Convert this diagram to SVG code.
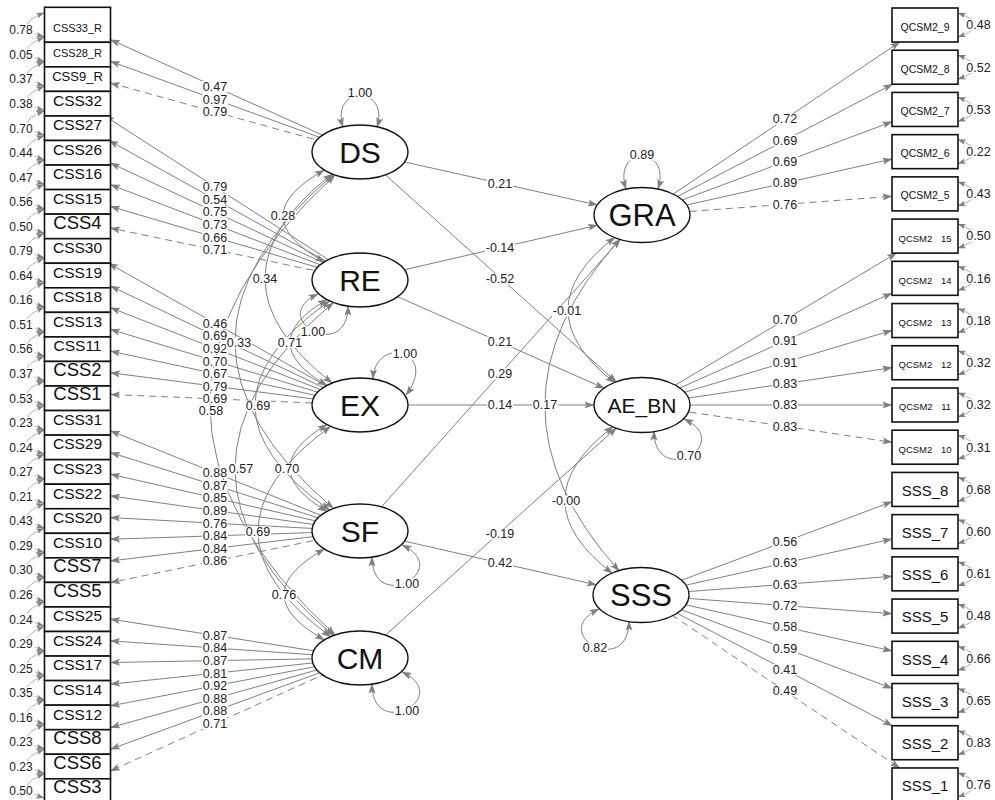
<svg xmlns="http://www.w3.org/2000/svg" width="995" height="800" viewBox="0 0 995 800">
<defs>
<style>
.e{fill:none;stroke:#808080;stroke-width:1;marker-end:url(#a)}
.d{stroke-dasharray:7 5}
.c{fill:none;stroke:#808080;stroke-width:1;marker-start:url(#a);marker-end:url(#a)}
.r{fill:none;stroke:#9a9a9a;stroke-width:0.8;marker-start:url(#s);marker-end:url(#s)}
.bg{fill:#fff}
.lb{font-family:"Liberation Sans",Arial,sans-serif;font-size:12.5px;fill:#222;text-anchor:middle}
.rl{font-family:"Liberation Sans",Arial,sans-serif;font-size:12px;fill:#222;text-anchor:middle}
.box{fill:#fff;stroke:#111;stroke-width:1.6}
.lat{fill:#fff;stroke:#111;stroke-width:1.3}
.t{font-family:"Liberation Sans",Arial,sans-serif;text-anchor:middle;fill:#111}
.f11{font-size:11px}.f13{font-size:13px}.f15{font-size:15.5px}.f18{font-size:18.5px}
.q{font-size:10.5px}.q2{font-size:9.5px;word-spacing:6px}.s{font-size:15px}
.L{font-size:30px}.L2{font-size:31px}.L3{font-size:21px}
</style>
<marker id="a" viewBox="0 0 10 8" refX="9.5" refY="4" markerWidth="10" markerHeight="8" markerUnits="userSpaceOnUse" orient="auto-start-reverse"><path d="M0,0.5 L10,4 L0,7.5 L2,4 z" fill="#7f7f7f"/></marker>
<marker id="s" viewBox="0 0 10 8" refX="9.5" refY="4" markerWidth="8" markerHeight="6.5" markerUnits="userSpaceOnUse" orient="auto-start-reverse"><path d="M0,0.5 L10,4 L0,7.5 L2,4 z" fill="#7f7f7f"/></marker>
</defs>
<rect width="995" height="800" fill="#fff"/>
<g id="connectors">
<g id="loadings">
<path class="e" d="M360,152 L110.5,39.65"/>
<path class="e" d="M360,152 L110.5,61.34"/>
<path class="e d" d="M360,152 L110.5,83.02"/>
<path class="e" d="M360,280 L104.7,115.95"/>
<path class="e" d="M360,280 L109,140.5"/>
<path class="e" d="M360,280 L110.5,163.02"/>
<path class="e" d="M360,280 L110.5,184.7"/>
<path class="e" d="M360,280 L110.5,206.38"/>
<path class="e d" d="M360,280 L110.5,228.07"/>
<path class="e" d="M360,405 L108.5,263.25"/>
<path class="e" d="M360,405 L110.5,286.03"/>
<path class="e" d="M360,405 L110.5,307.72"/>
<path class="e" d="M360,405 L110.5,329.4"/>
<path class="e" d="M360,405 L110.5,351.08"/>
<path class="e" d="M360,405 L110.5,372.76"/>
<path class="e d" d="M360,405 L110.5,394.45"/>
<path class="e" d="M360,531 L110.5,430.84"/>
<path class="e" d="M360,531 L110.5,452.53"/>
<path class="e" d="M360,531 L110.5,474.21"/>
<path class="e" d="M360,531 L110.5,495.89"/>
<path class="e" d="M360,531 L110.5,517.58"/>
<path class="e" d="M360,531 L110.5,539.26"/>
<path class="e" d="M360,531 L110.5,560.94"/>
<path class="e d" d="M360,531 L110.5,582.62"/>
<path class="e" d="M360,658 L110.5,619.14"/>
<path class="e" d="M360,658 L110.5,640.82"/>
<path class="e" d="M360,658 L110.5,662.5"/>
<path class="e" d="M360,658 L110.5,684.19"/>
<path class="e" d="M360,658 L110.5,705.87"/>
<path class="e" d="M360,658 L110.5,727.55"/>
<path class="e" d="M360,658 L110.5,749.23"/>
<path class="e d" d="M360,658 L110.5,770.92"/>
<path class="e" d="M642,215 L899.7,42"/>
<path class="e" d="M642,215 L892.45,84.22"/>
<path class="e" d="M642,215 L892,121.75"/>
<path class="e" d="M642,215 L892,159.04"/>
<path class="e d" d="M642,215 L892,196.34"/>
<path class="e" d="M642,405 L896.5,253.1"/>
<path class="e" d="M642,405 L892,293.09"/>
<path class="e" d="M642,405 L892,330.39"/>
<path class="e" d="M642,405 L892,367.68"/>
<path class="e" d="M642,405 L892,405"/>
<path class="e d" d="M642,405 L892,442.28"/>
<path class="e" d="M642,595 L892,501.73"/>
<path class="e" d="M642,595 L892,539.03"/>
<path class="e" d="M642,595 L892,576.32"/>
<path class="e" d="M642,595 L892,613.62"/>
<path class="e" d="M642,595 L892,650.92"/>
<path class="e" d="M642,595 L892,688.22"/>
<path class="e" d="M642,595 L892.4,725.74"/>
<path class="e d" d="M642,595 L899.7,767.96"/>
</g>
<g id="regressions">
<path class="e" d="M360,152 L597.4,205"/>
<path class="e" d="M360,280 L597.6,225.2"/>
<path class="e" d="M360,152 L616.5,382.1"/>
<path class="e" d="M360,280 L604.3,388.3"/>
<path class="e" d="M360,405 L594,405"/>
<path class="e" d="M360,531 L620.5,239.1"/>
<path class="e" d="M360,531 L596.5,584.9"/>
<path class="e" d="M360,658 L616.5,427.9"/>
</g>
<g id="covariances">
<path class="c" d="M324.4,170.1 Q241.6,216 324.4,261.9"/>
<path class="c" d="M332.2,174 Q197.8,278.5 332.2,383"/>
<path class="c" d="M333.5,174.5 Q136.5,341.5 333.5,508.5"/>
<path class="c" d="M335,175 Q85,405 335,635"/>
<path class="c" d="M327,299.6 Q253,342.5 327,385.4"/>
<path class="c" d="M329.7,300.9 Q180.3,405.5 329.7,510.1"/>
<path class="c" d="M333.4,302.5 Q136.6,469 333.4,635.5"/>
<path class="c" d="M327,424.6 Q253,468 327,511.4"/>
<path class="c" d="M330.6,426.4 Q185.4,531.5 330.6,636.6"/>
<path class="c" d="M324.4,549.1 Q243.6,594.5 324.4,639.9"/>
<path class="c" d="M614.8,237.2 Q521.2,310 614.8,382.8"/>
<path class="c" d="M613.2,426.6 Q517,500 612.4,573.4"/>
<path class="c" d="M620.2,239 Q470,405 619.2,571"/>
</g>
<g id="variances">
<path class="c" d="M343,127 C330,85 390,85 377,127"/>
<path class="c" d="M626,189 C612,145 672,145 658,189"/>
<path class="c" d="M348,306 C348,364 265,319 318,294"/>
<path class="c" d="M373,379 C375,335 440,350 406,395"/>
<path class="c" d="M372,557 C372,615 455,570 402,545"/>
<path class="c" d="M372,684 C372,742 455,697 402,672"/>
<path class="c" d="M654,431 C654,489 737,444 684,419"/>
<path class="c" d="M629,621 C629,679 546,634 599,609"/>
</g>
<g id="residuals">
<path class="r" d="M44,12.8 Q10,26.8 44,36.8"/>
<path class="r" d="M44,37.35 Q10,51.35 44,61.35"/>
<path class="r" d="M44,61.9 Q10,75.9 44,85.9"/>
<path class="r" d="M44,86.45 Q10,100.45 44,110.45"/>
<path class="r" d="M44,111 Q10,125 44,135"/>
<path class="r" d="M44,135.55 Q10,149.55 44,159.55"/>
<path class="r" d="M44,160.1 Q10,174.1 44,184.1"/>
<path class="r" d="M44,184.65 Q10,198.65 44,208.65"/>
<path class="r" d="M44,209.2 Q10,223.2 44,233.2"/>
<path class="r" d="M44,233.75 Q10,247.75 44,257.75"/>
<path class="r" d="M44,258.3 Q10,272.3 44,282.3"/>
<path class="r" d="M44,282.85 Q10,296.85 44,306.85"/>
<path class="r" d="M44,307.4 Q10,321.4 44,331.4"/>
<path class="r" d="M44,331.95 Q10,345.95 44,355.95"/>
<path class="r" d="M44,356.5 Q10,370.5 44,380.5"/>
<path class="r" d="M44,381.05 Q10,395.05 44,405.05"/>
<path class="r" d="M44,405.6 Q10,419.6 44,429.6"/>
<path class="r" d="M44,430.15 Q10,444.15 44,454.15"/>
<path class="r" d="M44,454.7 Q10,468.7 44,478.7"/>
<path class="r" d="M44,479.25 Q10,493.25 44,503.25"/>
<path class="r" d="M44,503.8 Q10,517.8 44,527.8"/>
<path class="r" d="M44,528.35 Q10,542.35 44,552.35"/>
<path class="r" d="M44,552.9 Q10,566.9 44,576.9"/>
<path class="r" d="M44,577.45 Q10,591.45 44,601.45"/>
<path class="r" d="M44,602 Q10,616 44,626"/>
<path class="r" d="M44,626.55 Q10,640.55 44,650.55"/>
<path class="r" d="M44,651.1 Q10,665.1 44,675.1"/>
<path class="r" d="M44,675.65 Q10,689.65 44,699.65"/>
<path class="r" d="M44,700.2 Q10,714.2 44,724.2"/>
<path class="r" d="M44,724.75 Q10,738.75 44,748.75"/>
<path class="r" d="M44,749.3 Q10,763.3 44,773.3"/>
<path class="r" d="M44,773.85 Q10,787.85 44,797.85"/>
<path class="r" d="M958,13 Q992,25 958,37"/>
<path class="r" d="M958,55.22 Q992,67.22 958,79.22"/>
<path class="r" d="M958,97.44 Q992,109.44 958,121.44"/>
<path class="r" d="M958,139.66 Q992,151.66 958,163.66"/>
<path class="r" d="M958,181.88 Q992,193.88 958,205.88"/>
<path class="r" d="M958,224.1 Q992,236.1 958,248.1"/>
<path class="r" d="M958,266.32 Q992,278.32 958,290.32"/>
<path class="r" d="M958,308.54 Q992,320.54 958,332.54"/>
<path class="r" d="M958,350.76 Q992,362.76 958,374.76"/>
<path class="r" d="M958,392.98 Q992,404.98 958,416.98"/>
<path class="r" d="M958,435.2 Q992,447.2 958,459.2"/>
<path class="r" d="M958,477.42 Q992,489.42 958,501.42"/>
<path class="r" d="M958,519.64 Q992,531.64 958,543.64"/>
<path class="r" d="M958,561.86 Q992,573.86 958,585.86"/>
<path class="r" d="M958,604.08 Q992,616.08 958,628.08"/>
<path class="r" d="M958,646.3 Q992,658.3 958,670.3"/>
<path class="r" d="M958,688.52 Q992,700.52 958,712.52"/>
<path class="r" d="M958,730.74 Q992,742.74 958,754.74"/>
<path class="r" d="M958,772.96 Q992,784.96 958,796.96"/>
</g>
<g id="edge-labels">
<rect class="bg" x="202" y="81.2" width="26" height="11"/><text class="lb" x="215" y="91.1">0.47</text>
<rect class="bg" x="202" y="93.8" width="26" height="11"/><text class="lb" x="215" y="103.7">0.97</text>
<rect class="bg" x="202" y="106.4" width="26" height="11"/><text class="lb" x="215" y="116.3">0.79</text>
<rect class="bg" x="202" y="181.3" width="26" height="11"/><text class="lb" x="215" y="191.2">0.79</text>
<rect class="bg" x="202" y="193.9" width="26" height="11"/><text class="lb" x="215" y="203.8">0.54</text>
<rect class="bg" x="202" y="206.5" width="26" height="11"/><text class="lb" x="215" y="216.4">0.75</text>
<rect class="bg" x="202" y="219.1" width="26" height="11"/><text class="lb" x="215" y="229">0.73</text>
<rect class="bg" x="202" y="231.7" width="26" height="11"/><text class="lb" x="215" y="241.6">0.66</text>
<rect class="bg" x="202" y="244.3" width="26" height="11"/><text class="lb" x="215" y="254.2">0.71</text>
<rect class="bg" x="202" y="317.8" width="26" height="11"/><text class="lb" x="215" y="327.7">0.46</text>
<rect class="bg" x="202" y="330.4" width="26" height="11"/><text class="lb" x="215" y="340.3">0.69</text>
<rect class="bg" x="202" y="343" width="26" height="11"/><text class="lb" x="215" y="352.9">0.92</text>
<rect class="bg" x="202" y="355.6" width="26" height="11"/><text class="lb" x="215" y="365.5">0.70</text>
<rect class="bg" x="202" y="368.2" width="26" height="11"/><text class="lb" x="215" y="378.1">0.67</text>
<rect class="bg" x="202" y="380.8" width="26" height="11"/><text class="lb" x="215" y="390.7">0.79</text>
<rect class="bg" x="202" y="393.4" width="26" height="11"/><text class="lb" x="215" y="403.3">0.69</text>
<rect class="bg" x="202" y="467.3" width="26" height="11"/><text class="lb" x="215" y="477.2">0.88</text>
<rect class="bg" x="202" y="479.9" width="26" height="11"/><text class="lb" x="215" y="489.8">0.87</text>
<rect class="bg" x="202" y="492.5" width="26" height="11"/><text class="lb" x="215" y="502.4">0.85</text>
<rect class="bg" x="202" y="505.1" width="26" height="11"/><text class="lb" x="215" y="515">0.89</text>
<rect class="bg" x="202" y="517.7" width="26" height="11"/><text class="lb" x="215" y="527.6">0.76</text>
<rect class="bg" x="202" y="530.3" width="26" height="11"/><text class="lb" x="215" y="540.2">0.84</text>
<rect class="bg" x="202" y="542.9" width="26" height="11"/><text class="lb" x="215" y="552.8">0.84</text>
<rect class="bg" x="202" y="555.5" width="26" height="11"/><text class="lb" x="215" y="565.4">0.86</text>
<rect class="bg" x="202" y="629.9" width="26" height="11"/><text class="lb" x="215" y="639.8">0.87</text>
<rect class="bg" x="202" y="642.5" width="26" height="11"/><text class="lb" x="215" y="652.4">0.84</text>
<rect class="bg" x="202" y="655.1" width="26" height="11"/><text class="lb" x="215" y="665">0.87</text>
<rect class="bg" x="202" y="667.7" width="26" height="11"/><text class="lb" x="215" y="677.6">0.81</text>
<rect class="bg" x="202" y="680.3" width="26" height="11"/><text class="lb" x="215" y="690.2">0.92</text>
<rect class="bg" x="202" y="692.9" width="26" height="11"/><text class="lb" x="215" y="702.8">0.88</text>
<rect class="bg" x="202" y="705.5" width="26" height="11"/><text class="lb" x="215" y="715.4">0.88</text>
<rect class="bg" x="202" y="718.1" width="26" height="11"/><text class="lb" x="215" y="728">0.71</text>
<rect class="bg" x="772" y="113.5" width="26" height="11"/><text class="lb" x="785" y="123.4">0.72</text>
<rect class="bg" x="772" y="134.8" width="26" height="11"/><text class="lb" x="785" y="144.7">0.69</text>
<rect class="bg" x="772" y="156.2" width="26" height="11"/><text class="lb" x="785" y="166.1">0.69</text>
<rect class="bg" x="772" y="177.5" width="26" height="11"/><text class="lb" x="785" y="187.4">0.89</text>
<rect class="bg" x="772" y="198.8" width="26" height="11"/><text class="lb" x="785" y="208.7">0.76</text>
<rect class="bg" x="772" y="314.2" width="26" height="11"/><text class="lb" x="785" y="324.1">0.70</text>
<rect class="bg" x="772" y="335.5" width="26" height="11"/><text class="lb" x="785" y="345.4">0.91</text>
<rect class="bg" x="772" y="356.8" width="26" height="11"/><text class="lb" x="785" y="366.7">0.91</text>
<rect class="bg" x="772" y="378.2" width="26" height="11"/><text class="lb" x="785" y="388.1">0.83</text>
<rect class="bg" x="772" y="399.5" width="26" height="11"/><text class="lb" x="785" y="409.4">0.83</text>
<rect class="bg" x="772" y="420.8" width="26" height="11"/><text class="lb" x="785" y="430.7">0.83</text>
<rect class="bg" x="772" y="536.2" width="26" height="11"/><text class="lb" x="785" y="546.1">0.56</text>
<rect class="bg" x="772" y="557.5" width="26" height="11"/><text class="lb" x="785" y="567.4">0.63</text>
<rect class="bg" x="772" y="578.8" width="26" height="11"/><text class="lb" x="785" y="588.7">0.63</text>
<rect class="bg" x="772" y="600.2" width="26" height="11"/><text class="lb" x="785" y="610.1">0.72</text>
<rect class="bg" x="772" y="621.5" width="26" height="11"/><text class="lb" x="785" y="631.4">0.58</text>
<rect class="bg" x="772" y="642.8" width="26" height="11"/><text class="lb" x="785" y="652.7">0.59</text>
<rect class="bg" x="772" y="664.2" width="26" height="11"/><text class="lb" x="785" y="674.1">0.41</text>
<rect class="bg" x="772" y="685.5" width="26" height="11"/><text class="lb" x="785" y="695.4">0.49</text>
<rect class="bg" x="487" y="177.8" width="26" height="11"/><text class="lb" x="500" y="187.7">0.21</text>
<rect class="bg" x="485" y="242.2" width="30" height="11"/><text class="lb" x="500" y="252.1">-0.14</text>
<rect class="bg" x="485" y="273.5" width="30" height="11"/><text class="lb" x="500" y="283.4">-0.52</text>
<rect class="bg" x="487" y="336.5" width="26" height="11"/><text class="lb" x="500" y="346.4">0.21</text>
<rect class="bg" x="487" y="368.5" width="26" height="11"/><text class="lb" x="500" y="378.4">0.29</text>
<rect class="bg" x="487" y="399.5" width="26" height="11"/><text class="lb" x="500" y="409.4">0.14</text>
<rect class="bg" x="485" y="528.5" width="30" height="11"/><text class="lb" x="500" y="538.4">-0.19</text>
<rect class="bg" x="487" y="557.5" width="26" height="11"/><text class="lb" x="500" y="567.4">0.42</text>
<rect class="bg" x="270" y="210.5" width="26" height="11"/><text class="lb" x="283" y="220.4">0.28</text>
<rect class="bg" x="252" y="273" width="26" height="11"/><text class="lb" x="265" y="282.9">0.34</text>
<rect class="bg" x="226" y="337.5" width="26" height="11"/><text class="lb" x="239" y="347.4">0.33</text>
<rect class="bg" x="277" y="337" width="26" height="11"/><text class="lb" x="290" y="346.9">0.71</text>
<rect class="bg" x="198" y="405.5" width="26" height="11"/><text class="lb" x="211" y="415.4">0.58</text>
<rect class="bg" x="245" y="400.5" width="26" height="11"/><text class="lb" x="258" y="410.4">0.69</text>
<rect class="bg" x="228" y="463.5" width="26" height="11"/><text class="lb" x="241" y="473.4">0.57</text>
<rect class="bg" x="274" y="463.5" width="26" height="11"/><text class="lb" x="287" y="473.4">0.70</text>
<rect class="bg" x="245" y="526.5" width="26" height="11"/><text class="lb" x="258" y="536.4">0.69</text>
<rect class="bg" x="271" y="589.5" width="26" height="11"/><text class="lb" x="284" y="599.4">0.76</text>
<rect class="bg" x="552" y="305.5" width="30" height="11"/><text class="lb" x="567" y="315.4">-0.01</text>
<rect class="bg" x="532" y="399.5" width="26" height="11"/><text class="lb" x="545" y="409.4">0.17</text>
<rect class="bg" x="551" y="495.5" width="30" height="11"/><text class="lb" x="566" y="505.4">-0.00</text>
<rect class="bg" x="347" y="87.5" width="26" height="11"/><text class="lb" x="360" y="97.4">1.00</text>
<rect class="bg" x="300" y="326.5" width="26" height="11"/><text class="lb" x="313" y="336.4">1.00</text>
<rect class="bg" x="392" y="348.5" width="26" height="11"/><text class="lb" x="405" y="358.4">1.00</text>
<rect class="bg" x="394" y="578.5" width="26" height="11"/><text class="lb" x="407" y="588.4">1.00</text>
<rect class="bg" x="394" y="705.5" width="26" height="11"/><text class="lb" x="407" y="715.4">1.00</text>
<rect class="bg" x="629" y="149.5" width="26" height="11"/><text class="lb" x="642" y="159.4">0.89</text>
<rect class="bg" x="676" y="450.5" width="26" height="11"/><text class="lb" x="689" y="460.4">0.70</text>
<rect class="bg" x="582" y="642.5" width="26" height="11"/><text class="lb" x="595" y="652.4">0.82</text>
<rect class="bg" x="8" y="24.3" width="27" height="11"/><text class="rl" x="21" y="34.3">0.78</text>
<rect class="bg" x="8" y="48.85" width="27" height="11"/><text class="rl" x="21" y="58.85">0.05</text>
<rect class="bg" x="8" y="73.4" width="27" height="11"/><text class="rl" x="21" y="83.4">0.37</text>
<rect class="bg" x="8" y="97.95" width="27" height="11"/><text class="rl" x="21" y="107.95">0.38</text>
<rect class="bg" x="8" y="122.5" width="27" height="11"/><text class="rl" x="21" y="132.5">0.70</text>
<rect class="bg" x="8" y="147.05" width="27" height="11"/><text class="rl" x="21" y="157.05">0.44</text>
<rect class="bg" x="8" y="171.6" width="27" height="11"/><text class="rl" x="21" y="181.6">0.47</text>
<rect class="bg" x="8" y="196.15" width="27" height="11"/><text class="rl" x="21" y="206.15">0.56</text>
<rect class="bg" x="8" y="220.7" width="27" height="11"/><text class="rl" x="21" y="230.7">0.50</text>
<rect class="bg" x="8" y="245.25" width="27" height="11"/><text class="rl" x="21" y="255.25">0.79</text>
<rect class="bg" x="8" y="269.8" width="27" height="11"/><text class="rl" x="21" y="279.8">0.64</text>
<rect class="bg" x="8" y="294.35" width="27" height="11"/><text class="rl" x="21" y="304.35">0.16</text>
<rect class="bg" x="8" y="318.9" width="27" height="11"/><text class="rl" x="21" y="328.9">0.51</text>
<rect class="bg" x="8" y="343.45" width="27" height="11"/><text class="rl" x="21" y="353.45">0.56</text>
<rect class="bg" x="8" y="368" width="27" height="11"/><text class="rl" x="21" y="378">0.37</text>
<rect class="bg" x="8" y="392.55" width="27" height="11"/><text class="rl" x="21" y="402.55">0.53</text>
<rect class="bg" x="8" y="417.1" width="27" height="11"/><text class="rl" x="21" y="427.1">0.23</text>
<rect class="bg" x="8" y="441.65" width="27" height="11"/><text class="rl" x="21" y="451.65">0.24</text>
<rect class="bg" x="8" y="466.2" width="27" height="11"/><text class="rl" x="21" y="476.2">0.27</text>
<rect class="bg" x="8" y="490.75" width="27" height="11"/><text class="rl" x="21" y="500.75">0.21</text>
<rect class="bg" x="8" y="515.3" width="27" height="11"/><text class="rl" x="21" y="525.3">0.43</text>
<rect class="bg" x="8" y="539.85" width="27" height="11"/><text class="rl" x="21" y="549.85">0.29</text>
<rect class="bg" x="8" y="564.4" width="27" height="11"/><text class="rl" x="21" y="574.4">0.30</text>
<rect class="bg" x="8" y="588.95" width="27" height="11"/><text class="rl" x="21" y="598.95">0.26</text>
<rect class="bg" x="8" y="613.5" width="27" height="11"/><text class="rl" x="21" y="623.5">0.24</text>
<rect class="bg" x="8" y="638.05" width="27" height="11"/><text class="rl" x="21" y="648.05">0.29</text>
<rect class="bg" x="8" y="662.6" width="27" height="11"/><text class="rl" x="21" y="672.6">0.25</text>
<rect class="bg" x="8" y="687.15" width="27" height="11"/><text class="rl" x="21" y="697.15">0.35</text>
<rect class="bg" x="8" y="711.7" width="27" height="11"/><text class="rl" x="21" y="721.7">0.16</text>
<rect class="bg" x="8" y="736.25" width="27" height="11"/><text class="rl" x="21" y="746.25">0.23</text>
<rect class="bg" x="8" y="760.8" width="27" height="11"/><text class="rl" x="21" y="770.8">0.23</text>
<rect class="bg" x="8" y="785.35" width="27" height="11"/><text class="rl" x="21" y="795.35">0.50</text>
<rect class="bg" x="964.5" y="19.5" width="28" height="11"/><text class="lb" x="978.5" y="29.3">0.48</text>
<rect class="bg" x="964.5" y="61.72" width="28" height="11"/><text class="lb" x="978.5" y="71.52">0.52</text>
<rect class="bg" x="964.5" y="103.94" width="28" height="11"/><text class="lb" x="978.5" y="113.74">0.53</text>
<rect class="bg" x="964.5" y="146.16" width="28" height="11"/><text class="lb" x="978.5" y="155.96">0.22</text>
<rect class="bg" x="964.5" y="188.38" width="28" height="11"/><text class="lb" x="978.5" y="198.18">0.43</text>
<rect class="bg" x="964.5" y="230.6" width="28" height="11"/><text class="lb" x="978.5" y="240.4">0.50</text>
<rect class="bg" x="964.5" y="272.82" width="28" height="11"/><text class="lb" x="978.5" y="282.62">0.16</text>
<rect class="bg" x="964.5" y="315.04" width="28" height="11"/><text class="lb" x="978.5" y="324.84">0.18</text>
<rect class="bg" x="964.5" y="357.26" width="28" height="11"/><text class="lb" x="978.5" y="367.06">0.32</text>
<rect class="bg" x="964.5" y="399.48" width="28" height="11"/><text class="lb" x="978.5" y="409.28">0.32</text>
<rect class="bg" x="964.5" y="441.7" width="28" height="11"/><text class="lb" x="978.5" y="451.5">0.31</text>
<rect class="bg" x="964.5" y="483.92" width="28" height="11"/><text class="lb" x="978.5" y="493.72">0.68</text>
<rect class="bg" x="964.5" y="526.14" width="28" height="11"/><text class="lb" x="978.5" y="535.94">0.60</text>
<rect class="bg" x="964.5" y="568.36" width="28" height="11"/><text class="lb" x="978.5" y="578.16">0.61</text>
<rect class="bg" x="964.5" y="610.58" width="28" height="11"/><text class="lb" x="978.5" y="620.38">0.48</text>
<rect class="bg" x="964.5" y="652.8" width="28" height="11"/><text class="lb" x="978.5" y="662.6">0.66</text>
<rect class="bg" x="964.5" y="695.02" width="28" height="11"/><text class="lb" x="978.5" y="704.82">0.65</text>
<rect class="bg" x="964.5" y="737.24" width="28" height="11"/><text class="lb" x="978.5" y="747.04">0.83</text>
<rect class="bg" x="964.5" y="779.46" width="28" height="11"/><text class="lb" x="978.5" y="789.26">0.76</text>
</g>
</g>
<g id="nodes">
<g id="CSS33_R"><rect class="box" x="44.5" y="7.3" width="66" height="35"/><text class="t f11" x="77.5" y="32.1">CSS33_R</text></g>
<g id="CSS28_R"><rect class="box" x="44.5" y="42.3" width="66" height="24.55"/><text class="t f11" x="77.5" y="56.65">CSS28_R</text></g>
<g id="CSS9_R"><rect class="box" x="44.5" y="66.85" width="66" height="24.55"/><text class="t f13" x="77.5" y="81.2">CSS9_R</text></g>
<g id="CSS32"><rect class="box" x="44.5" y="91.4" width="66" height="24.55"/><text class="t f15" x="77.5" y="105.75">CSS32</text></g>
<g id="CSS27"><rect class="box" x="44.5" y="115.95" width="66" height="24.55"/><text class="t f15" x="77.5" y="130.3">CSS27</text></g>
<g id="CSS26"><rect class="box" x="44.5" y="140.5" width="66" height="24.55"/><text class="t f15" x="77.5" y="154.85">CSS26</text></g>
<g id="CSS16"><rect class="box" x="44.5" y="165.05" width="66" height="24.55"/><text class="t f15" x="77.5" y="179.4">CSS16</text></g>
<g id="CSS15"><rect class="box" x="44.5" y="189.6" width="66" height="24.55"/><text class="t f15" x="77.5" y="203.95">CSS15</text></g>
<g id="CSS4"><rect class="box" x="44.5" y="214.15" width="66" height="24.55"/><text class="t f18" x="77.5" y="228.5">CSS4</text></g>
<g id="CSS30"><rect class="box" x="44.5" y="238.7" width="66" height="24.55"/><text class="t f15" x="77.5" y="253.05">CSS30</text></g>
<g id="CSS19"><rect class="box" x="44.5" y="263.25" width="66" height="24.55"/><text class="t f15" x="77.5" y="277.6">CSS19</text></g>
<g id="CSS18"><rect class="box" x="44.5" y="287.8" width="66" height="24.55"/><text class="t f15" x="77.5" y="302.15">CSS18</text></g>
<g id="CSS13"><rect class="box" x="44.5" y="312.35" width="66" height="24.55"/><text class="t f15" x="77.5" y="326.7">CSS13</text></g>
<g id="CSS11"><rect class="box" x="44.5" y="336.9" width="66" height="24.55"/><text class="t f15" x="77.5" y="351.25">CSS11</text></g>
<g id="CSS2"><rect class="box" x="44.5" y="361.45" width="66" height="24.55"/><text class="t f18" x="77.5" y="375.8">CSS2</text></g>
<g id="CSS1"><rect class="box" x="44.5" y="386" width="66" height="24.55"/><text class="t f18" x="77.5" y="400.35">CSS1</text></g>
<g id="CSS31"><rect class="box" x="44.5" y="410.55" width="66" height="24.55"/><text class="t f15" x="77.5" y="424.9">CSS31</text></g>
<g id="CSS29"><rect class="box" x="44.5" y="435.1" width="66" height="24.55"/><text class="t f15" x="77.5" y="449.45">CSS29</text></g>
<g id="CSS23"><rect class="box" x="44.5" y="459.65" width="66" height="24.55"/><text class="t f15" x="77.5" y="474">CSS23</text></g>
<g id="CSS22"><rect class="box" x="44.5" y="484.2" width="66" height="24.55"/><text class="t f15" x="77.5" y="498.55">CSS22</text></g>
<g id="CSS20"><rect class="box" x="44.5" y="508.75" width="66" height="24.55"/><text class="t f15" x="77.5" y="523.1">CSS20</text></g>
<g id="CSS10"><rect class="box" x="44.5" y="533.3" width="66" height="24.55"/><text class="t f15" x="77.5" y="547.65">CSS10</text></g>
<g id="CSS7"><rect class="box" x="44.5" y="557.85" width="66" height="24.55"/><text class="t f18" x="77.5" y="572.2">CSS7</text></g>
<g id="CSS5"><rect class="box" x="44.5" y="582.4" width="66" height="24.55"/><text class="t f18" x="77.5" y="596.75">CSS5</text></g>
<g id="CSS25"><rect class="box" x="44.5" y="606.95" width="66" height="24.55"/><text class="t f15" x="77.5" y="621.3">CSS25</text></g>
<g id="CSS24"><rect class="box" x="44.5" y="631.5" width="66" height="24.55"/><text class="t f15" x="77.5" y="645.85">CSS24</text></g>
<g id="CSS17"><rect class="box" x="44.5" y="656.05" width="66" height="24.55"/><text class="t f15" x="77.5" y="670.4">CSS17</text></g>
<g id="CSS14"><rect class="box" x="44.5" y="680.6" width="66" height="24.55"/><text class="t f15" x="77.5" y="694.95">CSS14</text></g>
<g id="CSS12"><rect class="box" x="44.5" y="705.15" width="66" height="24.55"/><text class="t f15" x="77.5" y="719.5">CSS12</text></g>
<g id="CSS8"><rect class="box" x="44.5" y="729.7" width="66" height="24.55"/><text class="t f18" x="77.5" y="744.05">CSS8</text></g>
<g id="CSS6"><rect class="box" x="44.5" y="754.25" width="66" height="24.55"/><text class="t f18" x="77.5" y="768.6">CSS6</text></g>
<g id="CSS3"><rect class="box" x="44.5" y="778.8" width="66" height="24.55"/><text class="t f18" x="77.5" y="793.15">CSS3</text></g>
<g id="QCSM2_9"><rect class="box" x="892" y="8" width="66" height="34"/><text class="t q" x="925" y="30.5">QCSM2_9</text></g>
<g id="QCSM2_8"><rect class="box" x="892" y="50.22" width="66" height="34"/><text class="t q" x="925" y="72.72">QCSM2_8</text></g>
<g id="QCSM2_7"><rect class="box" x="892" y="92.44" width="66" height="34"/><text class="t q" x="925" y="114.94">QCSM2_7</text></g>
<g id="QCSM2_6"><rect class="box" x="892" y="134.66" width="66" height="34"/><text class="t q" x="925" y="157.16">QCSM2_6</text></g>
<g id="QCSM2_5"><rect class="box" x="892" y="176.88" width="66" height="34"/><text class="t q" x="925" y="199.38">QCSM2_5</text></g>
<g id="QCSM2_15"><rect class="box" x="892" y="219.1" width="66" height="34"/><text class="t q2" x="925" y="241.6">QCSM2 15</text></g>
<g id="QCSM2_14"><rect class="box" x="892" y="261.32" width="66" height="34"/><text class="t q2" x="925" y="283.82">QCSM2 14</text></g>
<g id="QCSM2_13"><rect class="box" x="892" y="303.54" width="66" height="34"/><text class="t q2" x="925" y="326.04">QCSM2 13</text></g>
<g id="QCSM2_12"><rect class="box" x="892" y="345.76" width="66" height="34"/><text class="t q2" x="925" y="368.26">QCSM2 12</text></g>
<g id="QCSM2_11"><rect class="box" x="892" y="387.98" width="66" height="34"/><text class="t q2" x="925" y="410.48">QCSM2 11</text></g>
<g id="QCSM2_10"><rect class="box" x="892" y="430.2" width="66" height="34"/><text class="t q2" x="925" y="452.7">QCSM2 10</text></g>
<g id="SSS_8"><rect class="box" x="892" y="472.42" width="66" height="34"/><text class="t s" x="925" y="495.72">SSS_8</text></g>
<g id="SSS_7"><rect class="box" x="892" y="514.64" width="66" height="34"/><text class="t s" x="925" y="537.94">SSS_7</text></g>
<g id="SSS_6"><rect class="box" x="892" y="556.86" width="66" height="34"/><text class="t s" x="925" y="580.16">SSS_6</text></g>
<g id="SSS_5"><rect class="box" x="892" y="599.08" width="66" height="34"/><text class="t s" x="925" y="622.38">SSS_5</text></g>
<g id="SSS_4"><rect class="box" x="892" y="641.3" width="66" height="34"/><text class="t s" x="925" y="664.6">SSS_4</text></g>
<g id="SSS_3"><rect class="box" x="892" y="683.52" width="66" height="34"/><text class="t s" x="925" y="706.82">SSS_3</text></g>
<g id="SSS_2"><rect class="box" x="892" y="725.74" width="66" height="34"/><text class="t s" x="925" y="749.04">SSS_2</text></g>
<g id="SSS_1"><rect class="box" x="892" y="767.96" width="66" height="34"/><text class="t s" x="925" y="791.26">SSS_1</text></g>
<g id="DS"><ellipse class="lat" cx="360" cy="152" rx="48" ry="27"/><text class="t L" x="360" y="162.7">DS</text></g>
<g id="RE"><ellipse class="lat" cx="360" cy="280" rx="48" ry="27"/><text class="t L" x="360" y="290.7">RE</text></g>
<g id="EX"><ellipse class="lat" cx="360" cy="405" rx="48" ry="27"/><text class="t L" x="360" y="415.7">EX</text></g>
<g id="SF"><ellipse class="lat" cx="360" cy="531" rx="48" ry="27"/><text class="t L" x="360" y="541.7">SF</text></g>
<g id="CM"><ellipse class="lat" cx="360" cy="658" rx="48" ry="27"/><text class="t L" x="360" y="668.7">CM</text></g>
<g id="GRA"><ellipse class="lat" cx="642" cy="215" rx="48" ry="27.5"/><text class="t L2" x="642" y="226.1">GRA</text></g>
<g id="AE_BN"><ellipse class="lat" cx="642" cy="405" rx="48" ry="27.5"/><text class="t L3" x="642" y="412.5">AE_BN</text></g>
<g id="SSS"><ellipse class="lat" cx="641" cy="595" rx="48" ry="27.5"/><text class="t L2" x="641" y="606.1">SSS</text></g>
</g>
</svg>
